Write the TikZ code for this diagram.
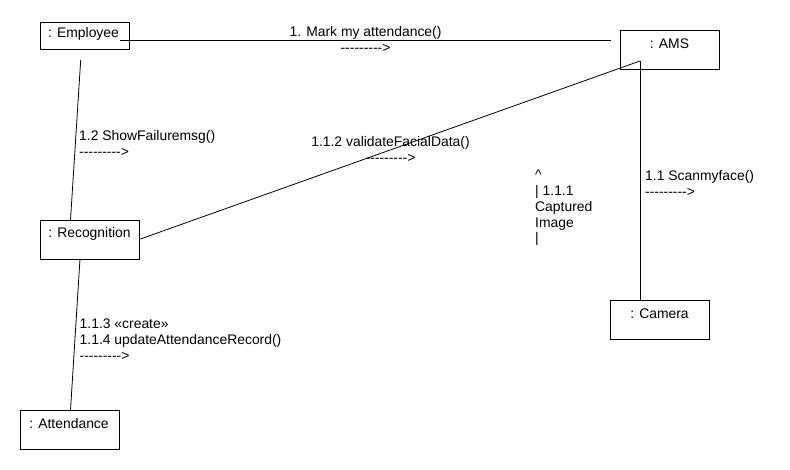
\documentclass[tikz,border=0pt]{standalone}
\usepackage{fontspec}
\newfontfamily\arial{Liberation Sans}
\usetikzlibrary{calc}
\begin{document}
\begin{tikzpicture}[x=1pt,y=-1pt,
  font={\arial\fontsize{13.9}{15.8}\selectfont},
  obj/.style={draw, line width=0.9pt, minimum width=99pt, minimum height=39pt, inner sep=0pt, outer sep=0pt},
  objtext/.style={anchor=base, inner sep=0pt},
  msg/.style={align=left, inner sep=0pt, anchor=north west},
  msgc/.style={align=center, inner sep=0pt, anchor=north},
  link/.style={line width=0.8pt}]
\useasboundingbox (0,0) rectangle (790,470);
% objects
\node[obj, minimum width=89pt, minimum height=27pt] (emp) at (84.5,35.5) {};
\node[obj] (ams) at (669.5,49.5) {};
\node[obj] (rec) at (89.5,239.5) {};
\node[obj] (cam) at (659.5,319.5) {};
\node[obj] (att) at (69.5,429.5) {};
\node[objtext] (empT) at ($(emp.north)+(-1,15.7)$) {: Employee};
\node[objtext] (amsT) at ($(ams.north)+(0,18.4)$) {: AMS};
\node[objtext] (recT) at ($(rec.north)+(0,17.8)$) {: Recognition};
\node[objtext] (camT) at ($(cam.north)+(0,18.4)$) {: Camera};
\node[objtext] (attT) at ($(att.north)+(-0.5,18.4)$) {: Attendance};
% connectors
\draw[link] ($(emp.east)+(-9,4.5)$) -- ($(ams.west)+(-9,-9.5)$);
\draw[link] ($(emp.south)+(-3.8,11)$) -- ($(rec.north)+(-19,0)$);
\draw[link] ($(rec.south)+(-9.5,0)$) -- ($(att.north)+(1,0)$);
\draw[link] (rec.east) -- ($(ams.center)+(-29.5,11.5)$);
\draw[link] ($(ams.center)+(-29.5,11.5)$) -- ($(cam.north)+(-19.5,0)$);
% messages
\node[msgc] (m1) at (365.5,26.5) {1. Mark my attendance()\\--------->};
\node[msg] (m12) at (79,130) {1.2 ShowFailuremsg()\\--------->};
\node[msgc] (m112) at (390.5,136.5) {1.1.2 validateFacialData()\\--------->};
\node[msg] (m11) at (645,170.5) {1.1 Scanmyface()\\--------->};
\node[msg] (m111) at (535,170) {\textasciicircum\\| 1.1.1\\Captured\\Image\\|};
\node[msg] (m113) at (79.5,318.5) {1.1.3 «create»\\1.1.4 updateAttendanceRecord()\\--------->};
\end{tikzpicture}
\end{document}
